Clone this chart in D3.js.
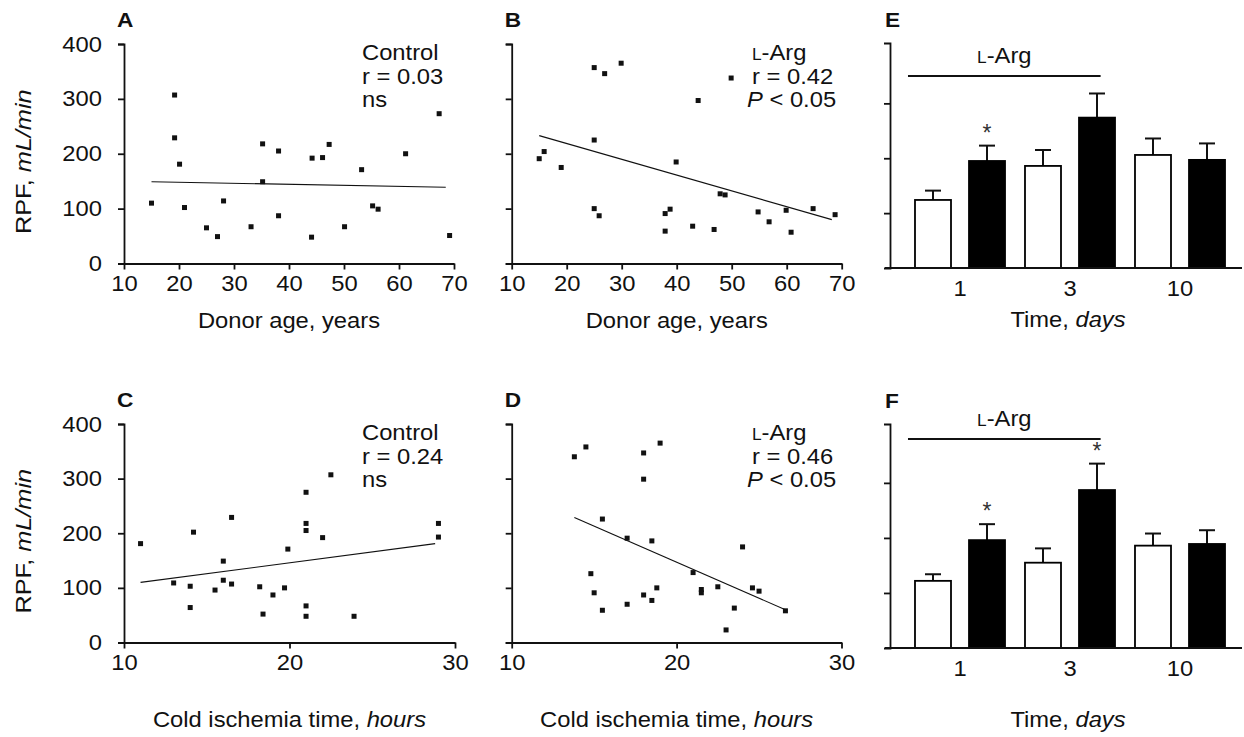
<!DOCTYPE html>
<html><head><meta charset="utf-8">
<script src="https://cdn.jsdelivr.net/npm/d3@7"></script>
<style>
html,body{margin:0;padding:0;background:#fff;}
svg{display:block;font-family:"Liberation Sans",Arial,Helvetica,sans-serif;}
</style></head>
<body>
<svg id="chart" width="1244" height="737"></svg>
<script>
// ---------- data ----------
const ageTicks = [10, 20, 30, 40, 50, 60, 70];
const hourTicks = [10, 20, 30];
const rpfTicks = [0, 100, 200, 300, 400];
const days = ["1", "3", "10"];

// Panel A: Control, RPF vs donor age
const A_age = [15.0,19.2,19.2,20.1,21.0,25.0,27.0,28.1,33.1,35.2,35.2,38.1,38.1,44.2,44.1,46.1,47.3,50.1,53.2,55.2,56.2,61.2,67.3,69.2];
const A_rpf = [110,307,229,181,102,65,49,114,67,218,149,205,87,192,48,193,217,67,171,105,99,200,273,51];
const A_fitX = [15, 68.5];
const A_fitY = [149, 139];

// Panel B: L-Arg, RPF vs donor age
const B_age = [15.0,15.9,19.0,25.0,26.9,29.9,25.0,25.0,25.9,37.9,38.8,37.9,39.9,42.9,43.9,46.8,47.9,48.8,49.9,54.8,56.8,59.9,60.8,64.8,68.8];
const B_rpf = [191,204,175,357,346,365,225,100,87,91,99,59,185,68,297,62,127,125,338,94,76,97,57,100,89];
const B_fitX = [15, 68.2];
const B_fitY = [233, 80];

// Panel C: Control, RPF vs cold ischemia time
const C_hours = [11.0,13.0,14.0,14.0,14.2,15.5,16.0,16.0,16.5,16.5,18.2,18.4,19.0,19.7,19.9,21.0,21.0,21.0,21.0,21.0,22.0,22.5,23.9,29.0,29.0];
const C_rpf = [181,109,103,64,202,96,149,114,229,107,102,52,87,100,171,275,218,205,67,48,192,307,48,218,193];
const C_fitX = [11, 28.8];
const C_fitY = [110, 181];

// Panel D: L-Arg, RPF vs cold ischemia time
const D_hours = [13.8,14.5,14.8,15.0,15.5,15.5,17.0,17.0,18.0,18.0,18.0,18.5,18.5,18.8,19.0,21.0,21.5,21.5,22.5,23.0,23.5,24.0,24.6,25.0,26.6];
const D_rpf = [340,358,126,91,226,59,191,70,347,299,87,186,77,100,365,128,97,91,102,23,63,175,100,94,58];
const D_fitX = [13.8, 26.6];
const D_fitY = [229, 60];

// Panel E/F: RPF over time (mean, SEM); control = open, L-Arg = filled
const E_control = [124, 186, 206];
const E_controlSem = [17, 29, 30];
const E_larg = [195, 274, 197];
const E_largSem = [28, 44, 30];
const E_sig = [true, false, false];

const F_control = [122, 155, 186];
const F_controlSem = [12, 26, 22];
const F_larg = [196, 287, 189];
const F_largSem = [29, 48, 25];
const F_sig = [true, true, false];

// ---------- helpers ----------
const svg = d3.select("#chart");
const SX = 1.08;     // horizontal stretch of the original typesetting
const FS = 22;

function txt(g, x, y, parts, opt = {}) {
  const t = g.append("text")
    .attr("transform", `translate(${x},${y}) scale(${opt.sx || SX},1)`)
    .attr("text-anchor", opt.anchor || "start")
    .attr("font-size", opt.size || FS)
    .attr("font-weight", opt.weight || "normal")
    .attr("fill", opt.fill || "#111");
  if (typeof parts === "string") parts = [{t: parts}];
  parts.forEach(p => {
    const s = t.append("tspan").text(p.t);
    if (p.i) s.attr("font-style", "italic");
    if (p.size) s.attr("font-size", p.size);
  });
  return t;
}

function styleAxis(sel) {
  sel.selectAll("path.domain").attr("stroke", "#111").attr("stroke-width", 1.8);
  sel.selectAll(".tick line").attr("stroke", "#111").attr("stroke-width", 1.8);
  sel.selectAll(".tick text").attr("fill", "#111").attr("font-size", FS)
     .attr("font-family", '"Liberation Sans",Arial,Helvetica,sans-serif');
}

function scatterPanel(cfg) {
  const g = svg.append("g");
  const x = d3.scaleLinear().domain(cfg.xDomain).range(cfg.xRange);
  const y = d3.scaleLinear().domain([0, 400]).range(cfg.yRange);

  const ya = d3.axisLeft(y).tickValues(rpfTicks).tickSize(6).tickSizeOuter(6).tickPadding(14);
  if (!cfg.yLabels) ya.tickFormat("");
  const yg = g.append("g").attr("transform", `translate(${cfg.xRange[0]},0)`).call(ya);
  styleAxis(yg);
  yg.selectAll(".tick text").attr("transform", `scale(${SX},1)`).attr("x", -20.5);

  const xa = d3.axisBottom(x).tickValues(cfg.xTicks).tickSize(6).tickSizeOuter(0).tickPadding(6);
  const xg = g.append("g").attr("transform", `translate(0,${cfg.yRange[0]})`).call(xa);
  styleAxis(xg);
  xg.selectAll(".tick text").attr("transform", `scale(${SX},1)`).attr("x", 0);

  // regression line
  g.append("line")
    .attr("x1", x(cfg.fitX[0])).attr("y1", y(cfg.fitY[0]))
    .attr("x2", x(cfg.fitX[1])).attr("y2", y(cfg.fitY[1]))
    .attr("stroke", "#111").attr("stroke-width", 1.1);

  // points
  const pts = cfg.xs.map((v, i) => [v, cfg.ys[i]]);
  g.selectAll("rect.pt").data(pts).enter().append("rect")
    .attr("class", "pt")
    .attr("x", d => x(d[0]) - 2.5).attr("y", d => y(d[1]) - 2.5)
    .attr("width", 5).attr("height", 5).attr("fill", "#111");

  // panel letter
  txt(g, cfg.xRange[0] - 7, cfg.yRange[1] - 17, cfg.letter, {size: 21, weight: "bold", sx: 1.08});

  // annotation
  const ax = cfg.annX, ay = cfg.yRange[1] + 16;
  cfg.ann.forEach((line, i) => txt(g, ax + (line.dx || 0), ay + i * 23.5, line.parts));

  // axis title
  txt(g, (cfg.xRange[0] + cfg.xRange[1]) / 2, cfg.yRange[0] + cfg.titleGap, cfg.xTitle, {anchor: "middle"});

  // y title
  if (cfg.yTitle) {
    g.append("text")
      .attr("transform", `translate(31,${(cfg.yRange[0] + cfg.yRange[1]) / 2 + 8}) rotate(-90) scale(1.15,1)`)
      .attr("text-anchor", "middle").attr("font-size", FS).attr("fill", "#111")
      .call(t => { t.append("tspan").text("RPF, "); t.append("tspan").attr("font-style", "italic").text("mL/min"); });
  }
}

const larg = (txtRest) => [{t: "L", size: 16}, {t: txtRest}];

scatterPanel({letter: "A", xDomain: [10, 70], xRange: [124, 454], yRange: [263.5, 44], xTicks: ageTicks,
  xs: A_age, ys: A_rpf, fitX: A_fitX, fitY: A_fitY, yLabels: true, yTitle: true, annX: 362, titleGap: 64,
  ann: [{parts: "Control"}, {parts: "r = 0.03"}, {parts: "ns"}],
  xTitle: "Donor age, years"});

scatterPanel({letter: "B", xDomain: [10, 70], xRange: [511.7, 841.7], yRange: [263.5, 44], xTicks: ageTicks,
  xs: B_age, ys: B_rpf, fitX: B_fitX, fitY: B_fitY, yLabels: false, annX: 752, titleGap: 64,
  ann: [{parts: larg("-Arg")}, {parts: "r = 0.42"}, {parts: [{t: "P", i: true}, {t: " < 0.05"}], dx: -5}],
  xTitle: "Donor age, years"});

scatterPanel({letter: "C", xDomain: [10, 30], xRange: [124, 455], yRange: [642.5, 424], xTicks: hourTicks,
  xs: C_hours, ys: C_rpf, fitX: C_fitX, fitY: C_fitY, yLabels: true, yTitle: true, annX: 362, titleGap: 84,
  ann: [{parts: "Control"}, {parts: "r = 0.24"}, {parts: "ns"}],
  xTitle: [{t: "Cold ischemia time, "}, {t: "hours", i: true}]});

scatterPanel({letter: "D", xDomain: [10, 30], xRange: [511.7, 841.5], yRange: [642.5, 424], xTicks: hourTicks,
  xs: D_hours, ys: D_rpf, fitX: D_fitX, fitY: D_fitY, yLabels: false, annX: 752, titleGap: 84,
  ann: [{parts: larg("-Arg")}, {parts: "r = 0.46"}, {parts: [{t: "P", i: true}, {t: " < 0.05"}], dx: -5}],
  xTitle: [{t: "Cold ischemia time, "}, {t: "hours", i: true}]});

// ---------- bar panels ----------
function barPanel(cfg) {
  const g = svg.append("g");
  const x0 = d3.scaleBand().domain(days).range([905, 1235]).padding(0);
  const x1 = d3.scaleBand().domain(["control", "larg"]).range([0, x0.bandwidth()])
    .paddingInner(1/3).paddingOuter(0.185);
  const y = d3.scaleLinear().domain([0, cfg.yTop]).range([cfg.base, cfg.top]);
  const axisX = 890;

  // y axis
  const yg = g.append("g").attr("transform", `translate(${axisX},0)`)
    .call(d3.axisLeft(y).tickValues([100, 200, 300]).tickSize(6).tickSizeOuter(6).tickFormat(""));
  styleAxis(yg);

  const rows = [];
  days.forEach((d, i) => {
    rows.push({day: d, grp: "control", v: cfg.control[i], e: cfg.controlSem[i], sig: false});
    rows.push({day: d, grp: "larg", v: cfg.larg[i], e: cfg.largSem[i], sig: cfg.sig[i]});
  });
  const bx = r => x0(r.day) + x1(r.grp);
  const bw = x1.bandwidth();

  // error bars (upper only)
  rows.forEach(r => {
    const cx = bx(r) + bw / 2;
    g.append("line").attr("x1", cx).attr("x2", cx).attr("y1", y(r.v)).attr("y2", y(r.v + r.e))
      .attr("stroke", "#111").attr("stroke-width", 2);
    g.append("line").attr("x1", cx - 8).attr("x2", cx + 8).attr("y1", y(r.v + r.e)).attr("y2", y(r.v + r.e))
      .attr("stroke", "#111").attr("stroke-width", 2);
    if (r.sig) {
      g.append("text").attr("x", cx).attr("y", y(r.v + r.e) - 5)
        .attr("text-anchor", "middle").attr("font-size", 23).attr("fill", "#333").text("*");
    }
  });

  g.selectAll("rect.bar").data(rows).enter().append("rect")
    .attr("class", "bar")
    .attr("x", r => bx(r)).attr("width", bw)
    .attr("y", r => y(r.v)).attr("height", r => cfg.base - y(r.v))
    .attr("fill", r => r.grp === "larg" ? "#000" : "#fff")
    .attr("stroke", "#000").attr("stroke-width", 1.8);

  // baseline
  g.append("line").attr("x1", axisX - 5).attr("x2", 1242).attr("y1", cfg.base).attr("y2", cfg.base)
    .attr("stroke", "#111").attr("stroke-width", 1.8);

  // category labels
  days.forEach(d => txt(g, x0(d) + x0.bandwidth() / 2, cfg.base + 28, d, {anchor: "middle"}));

  // L-Arg bracket line
  const lx1 = x0("1") + x1("control") - 7;
  const lx2 = x0("3") + x1("larg") + bw * 0.6;
  g.append("line").attr("x1", lx1).attr("x2", lx2).attr("y1", cfg.lineY).attr("y2", cfg.lineY)
    .attr("stroke", "#111").attr("stroke-width", 1.8);
  txt(g, (lx1 + lx2) / 2, cfg.lineY - 13, larg("-Arg"), {anchor: "middle"});

  // letter + title
  txt(g, axisX - 5, cfg.top - 16, cfg.letter, {size: 21, weight: "bold", sx: 1.08});
  txt(g, 1068, cfg.base + cfg.titleGap, [{t: "Time, "}, {t: "days", i: true}], {anchor: "middle"});
}

barPanel({letter: "E", control: E_control, controlSem: E_controlSem, larg: E_larg, largSem: E_largSem, sig: E_sig,
  base: 268, top: 43, yTop: 410, lineY: 76, titleGap: 59});
barPanel({letter: "F", control: F_control, controlSem: F_controlSem, larg: F_larg, largSem: F_largSem, sig: F_sig,
  base: 648, top: 424, yTop: 407, lineY: 439, titleGap: 79});
</script>
</body></html>
